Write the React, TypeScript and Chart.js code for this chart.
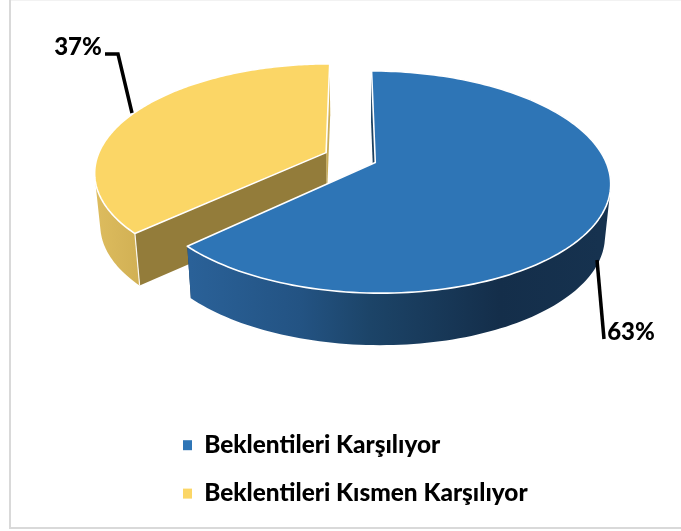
import React, { useEffect, useRef } from "react";
import { Chart, registerables } from "chart.js";

Chart.register(...registerables);

const categories = ["Beklentileri Karşılıyor", "Beklentileri Kısmen Karşılıyor"];
const shares = [63, 37];
const topColors = ["#2E75B6", "#FBD666"];

const W = 681;
const H = 531;
const FONT = "Lato, 'Open Sans', sans-serif";
const EXPLODE = 0.117;
const KX = 229 / 115;
const KY = 105.9 / 115;
const PERSP = 0.175;
const DEPTH = 52;
const BOTTOM_SCALE = 0.978;

const wallStyles = [
  {
    outer: [[190, "#2A6198"], [300, "#235383"], [370, "#1C4468"], [500, "#142E4A"], [600, "#16324F"]] as [number, string][],
    startWall: "#1B4060",
    endWall: "#16324F",
  },
  {
    outer: [[96, "#DDBC5E"], [136, "#D2B155"]] as [number, string][],
    startWall: "#937C3A",
    endWall: "#C9AC58",
  },
];

const leaders = [
  { text: [631, 332], line: [[597, 260], [604, 339]] },
  { text: [78, 47], line: [[105, 54], [118, 54], [132, 113]] },
];

const pie3d = {
  id: "pie3d",
  beforeDatasetDraw(chart: any) {
    const ctx = chart.ctx as CanvasRenderingContext2D;
    const arcs = chart.getDatasetMeta(0).data;

    const project = (arc: any, mid: number, ang: number | null, bottom: boolean) => {
      const u = (ang === null ? 0 : Math.cos(ang)) + EXPLODE * Math.cos(mid);
      const v = (ang === null ? 0 : Math.sin(ang)) + EXPLODE * Math.sin(mid);
      const d = 1 - PERSP * v;
      const R = arc.outerRadius;
      const dx = (KX * R * u) / d;
      const dy = (KY * R * v) / d;
      return bottom
        ? [arc.x + dx * BOTTOM_SCALE, arc.y + dy + DEPTH]
        : [arc.x + dx, arc.y + dy];
    };

    const rim = (arc: any, mid: number, bottom: boolean) => {
      const pts: number[][] = [];
      const n = 160;
      for (let i = 0; i <= n; i++) {
        const t = arc.startAngle + ((arc.endAngle - arc.startAngle) * i) / n;
        pts.push(project(arc, mid, t, bottom));
      }
      return pts;
    };

    const poly = (pts: number[][]) => {
      ctx.beginPath();
      pts.forEach((p, i) => (i ? ctx.lineTo(p[0], p[1]) : ctx.moveTo(p[0], p[1])));
      ctx.closePath();
    };

    // yellow (second slice) sits behind blue
    [1, 0].forEach((i) => {
      const arc = arcs[i];
      const mid = (arc.startAngle + arc.endAngle) / 2;
      const style = wallStyles[i];
      const top = rim(arc, mid, false);
      const bot = rim(arc, mid, true);
      const apex = project(arc, mid, null, false);
      const apexB = project(arc, mid, null, true);

      // cut faces
      ctx.fillStyle = style.endWall;
      poly([top[top.length - 1], apex, apexB, bot[bot.length - 1]]);
      ctx.fill();
      ctx.fillStyle = style.startWall;
      poly([top[0], apex, apexB, bot[0]]);
      ctx.fill();

      // outer wall, one quad per rim step so the silhouette stays closed
      const x0 = style.outer[0][0];
      const span = style.outer[style.outer.length - 1][0] - x0;
      const g = ctx.createLinearGradient(x0, 0, x0 + span, 0);
      style.outer.forEach(([x, c]) => g.addColorStop((x - x0) / span, c));
      ctx.fillStyle = g;
      ctx.beginPath();
      for (let k = 0; k < top.length - 1; k++) {
        const q = [top[k], top[k + 1], bot[k + 1], bot[k]];
        const area =
          (q[1][0] - q[0][0]) * (q[2][1] - q[0][1]) - (q[1][1] - q[0][1]) * (q[2][0] - q[0][0]);
        const o = area >= 0 ? q : q.slice().reverse();
        o.forEach((p, j) => (j ? ctx.lineTo(p[0], p[1]) : ctx.moveTo(p[0], p[1])));
        ctx.closePath();
      }
      ctx.fill("nonzero");

      // corner highlight
      ctx.strokeStyle = "rgba(255,255,255,0.9)";
      ctx.lineWidth = 1.2;
      if (i === 1) {
        ctx.beginPath();
        ctx.moveTo(top[0][0], top[0][1]);
        ctx.lineTo(bot[0][0], bot[0][1]);
        ctx.stroke();
      }

      // top face
      ctx.fillStyle = topColors[i];
      poly([apex, ...top]);
      ctx.fill();
      ctx.strokeStyle = "#FFFFFF";
      ctx.lineWidth = 1.6;
      ctx.lineJoin = "round";
      ctx.stroke();
    });
    return false;
  },
  afterDraw(chart: any) {
    const ctx = chart.ctx as CanvasRenderingContext2D;
    const total = shares.reduce((a, b) => a + b, 0);
    ctx.save();
    // frame
    ctx.fillStyle = "#D9D9D9";
    ctx.fillRect(9, 0, 2, 529);
    ctx.fillRect(9, 527, W - 9, 2);
    ctx.fillStyle = "#F2F2F2";
    ctx.fillRect(11, 0, W - 11, 1);
    // leader lines + labels
    leaders.forEach((l, i) => {
      ctx.strokeStyle = "#000000";
      ctx.lineWidth = 3.5;
      ctx.lineJoin = "miter";
      ctx.beginPath();
      l.line.forEach((p, j) => (j ? ctx.lineTo(p[0], p[1]) : ctx.moveTo(p[0], p[1])));
      ctx.stroke();
      ctx.fillStyle = "#000000";
      ctx.font = `900 24px ${FONT}`;
      ctx.textAlign = "center";
      ctx.textBaseline = "middle";
      ctx.fillText(`${Math.round((shares[i] / total) * 100)}%`, l.text[0], l.text[1]);
    });
    ctx.restore();
  },
  afterLayout(chart: any) {
    const lg = chart.legend;
    lg.width = 460;
    lg.height = 160;
    lg.left = 159;
    lg.right = 159 + 460;
    lg.top = 409;
    lg.bottom = 569;
  },
};

export default function App() {
  const ref = useRef<HTMLCanvasElement>(null);
  useEffect(() => {
    const chart = new Chart(ref.current!, {
      type: "pie",
      data: {
        labels: categories,
        datasets: [{ data: shares, backgroundColor: topColors, borderWidth: 0 }],
      },
      options: {
        animation: false,
        responsive: false,
        layout: { padding: { left: 235.5, right: 215.5, top: 42.5, bottom: 258.5 } },
        plugins: {
          tooltip: { enabled: false },
          legend: {
            position: "chartArea",
            align: "start",
            labels: {
              boxWidth: 9,
              boxHeight: 10,
              padding: 24,
              color: "#000000",
              font: { family: FONT, size: 24.4, weight: "900" },
            },
          },
        },
      } as any,
      plugins: [pie3d],
    });
    return () => chart.destroy();
  }, []);
  return (
    <div style={{ position: "fixed", left: 0, top: 0, width: W, height: H, background: "#fff" }}>
      <canvas ref={ref} width={W} height={H} style={{ display: "block" }} />
    </div>
  );
}
